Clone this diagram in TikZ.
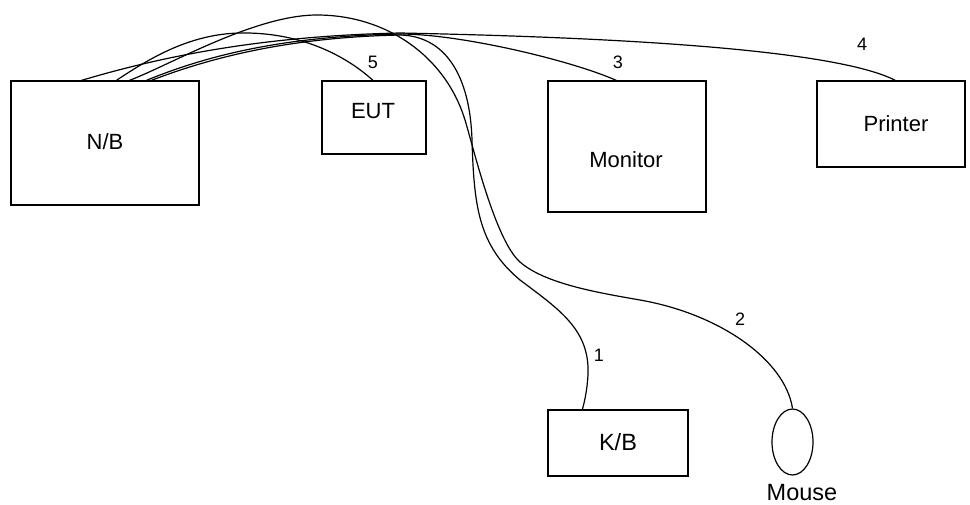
\documentclass[tikz,border=0pt]{standalone}
\usepackage{fontspec}
\setmainfont{Liberation Sans}
\usetikzlibrary{shapes.geometric}
\begin{document}
\begin{tikzpicture}[x=1pt,y=-1pt,
  box/.style={draw, line width=1.2pt, rectangle, inner sep=0pt},
  cable/.style={line width=1.2pt},
  lbl/.style={inner sep=0pt, font=\fontsize{22}{26}\selectfont},
  biglbl/.style={inner sep=0pt, font=\fontsize{23.5}{28}\selectfont},
  num/.style={inner sep=0pt, font=\fontsize{18}{22}\selectfont}]
\useasboundingbox (0,0) rectangle (970,504);

% equipment
\node[box, minimum width=188pt, minimum height=124pt] (nb)  at (105,143)   {};
\node[box, minimum width=104pt, minimum height=73pt]  (eut) at (374,117.5) {};
\node[box, minimum width=158pt, minimum height=131pt] (mon) at (627,146.5) {};
\node[box, minimum width=148pt, minimum height=86pt]  (prn) at (891,124)   {};
\node[box, minimum width=140pt, minimum height=66pt]  (kb)  at (618,443)   {};
\node[draw, line width=1.2pt, ellipse, inner sep=0pt,
      minimum width=41pt, minimum height=66pt] (mouse) at (792.5,442) {};

% names
\node[lbl] (nbtext)  at (105,142) {N/B};
\node[lbl] (euttext) at (373,111) {EUT};
\node[lbl] (montext) at (626,160) {Monitor};
\node[lbl] (prntext) at (896,124) {Printer};
\node[biglbl] (kbtext) at (618,442) {K/B};
\node[biglbl] (mousetext) at (802,493) {Mouse};

% cable numbers
\node[num] (n5) at (373,62)  {5};
\node[num] (n3) at (618,62)  {3};
\node[num] (n4) at (862,44)  {4};
\node[num] (n2) at (740,319) {2};
\node[num] (n1) at (599,355) {1};

% cables
\draw[cable] ([xshift=106pt]nb.north west) .. controls (150,58) and (190,34) .. (240,33)
  .. controls (300,32) and (345,55) .. ([xshift=-1pt]eut.north);
\draw[cable] ([xshift=119pt]nb.north west) .. controls (170,65) and (255,15) .. (317,15)
  .. controls (385,15) and (445,55) .. (465,120)
  .. controls (473,146) and (495,240) .. (520,262)
  .. controls (545,284) and (600,293) .. (640,300)
  .. controls (720,314) and (785,360) .. (mouse.north);
\draw[cable] ([xshift=141pt]nb.north west) .. controls (225,52) and (305,37) .. (400,35)
  .. controls (445,36) and (470,75) .. (472,140)
  .. controls (474,205) and (478,245) .. (520,280)
  .. controls (560,310) and (590,330) .. (588,375)
  .. controls (587,390) and (585,400) .. ([xshift=35pt]kb.north west);
\draw[cable] ([xshift=136pt]nb.north west) .. controls (220,50) and (300,36) .. (400,34)
  .. controls (460,34) and (570,60) .. ([xshift=69pt]mon.north west);
\draw[cable] ([xshift=71pt]nb.north west) .. controls (160,57) and (260,36) .. (400,33)
  .. controls (650,38) and (840,52) .. ([xshift=79pt]prn.north west);
\end{tikzpicture}
\end{document}
